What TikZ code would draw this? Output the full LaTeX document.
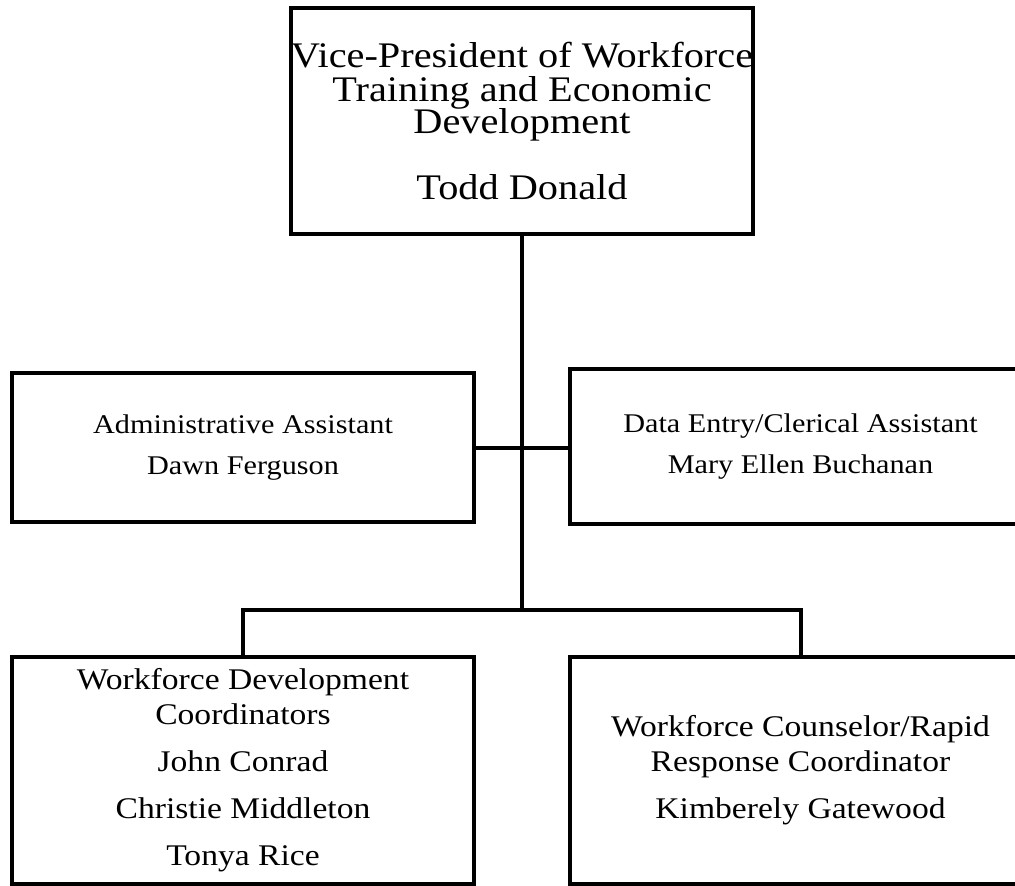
\documentclass[tikz,border=0pt]{standalone}
\usepackage{fontspec}
\setmainfont[FakeStretch=1.12]{Liberation Serif}
\begin{document}
\begin{tikzpicture}[x=1pt,y=-1pt,
  box/.style={draw, line width=4.5pt, inner sep=0pt, outer sep=0pt, align=center},
  conn/.style={line width=4pt}]
\clip (0,0) rectangle (1015,886);
\node[box, minimum width=462pt, minimum height=226pt, font=\fontsize{36}{33}\selectfont] (vp) at (522,121)
  {Vice-President of Workforce\\Training and Economic\\Development\\[32pt]Todd Donald};
\node[box, minimum width=462pt, minimum height=149pt, font=\fontsize{27}{41}\selectfont] (admin) at (243,447.5)
  {Administrative Assistant\\Dawn Ferguson};
\node[box, minimum width=461pt, minimum height=155pt, font=\fontsize{27}{41}\selectfont] (data) at (800.5,446.5)
  {Data Entry/Clerical Assistant\\Mary Ellen Buchanan};
\node[box, minimum width=462pt, minimum height=227pt, font=\fontsize{30}{35}\selectfont] (wdc) at (243,770.5)
  {Workforce Development\\Coordinators\\[12pt]John Conrad\\[12pt]Christie Middleton\\[12pt]Tonya Rice};
\node[box, minimum width=461pt, minimum height=227pt, font=\fontsize{30}{35}\selectfont] (wcr) at (800.5,770.5)
  {Workforce Counselor/Rapid\\Response Coordinator\\[12pt]Kimberely Gatewood};
\coordinate (j) at (vp.south |- 0,610);
\draw[conn] (vp.south) -- (j);
\draw[conn] (admin.east) -- (admin.east -| data.west);
\coordinate (bl) at (wdc.north |- j);
\coordinate (br) at (wcr.north |- j);
\draw[conn] (wdc.north) -- (bl) -- (br) -- (wcr.north);
\end{tikzpicture}
\end{document}
